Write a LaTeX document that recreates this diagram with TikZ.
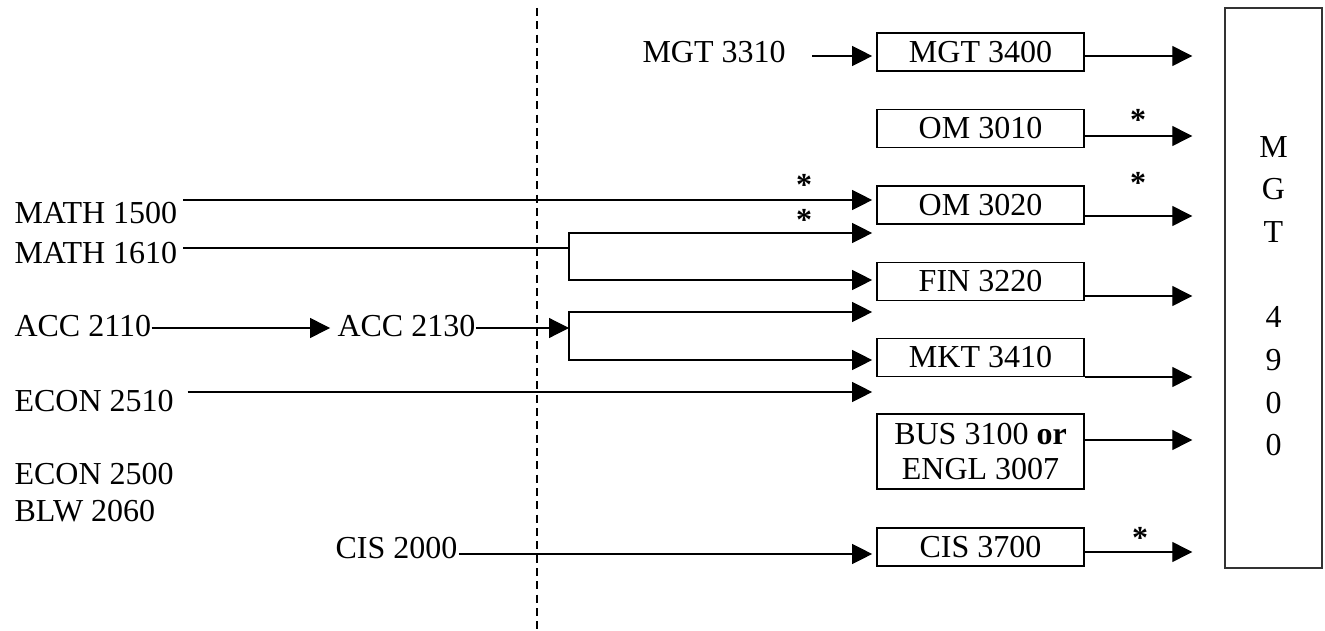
\documentclass[tikz,border=0pt]{standalone}
\usepackage{fontspec}
\setmainfont{Liberation Serif}
\usetikzlibrary{arrows.meta}

\begin{document}
\begin{tikzpicture}[x=0.375pt,y=-0.375pt,
  course/.style={draw,line width=0.65pt,minimum width=77.6pt,minimum height=14.3pt,
    inner sep=0pt,align=center,font=\fontsize{12}{13.1}\selectfont},
  label/.style={inner sep=0pt,anchor=base west,font=\fontsize{12}{14.4}\selectfont},
  star/.style={inner sep=0pt,anchor=base,font=\fontsize{12}{14.4}\selectfont\bfseries},
  arr/.style={-{Triangle[length=7.5pt,width=7.5pt]},line width=0.45pt,shorten >=1.5pt}]

  \useasboundingbox (0,0) rectangle (1325,631);

  % dashed divider
  \draw[line width=0.45pt,dash pattern=on 3pt off 2pt] (537,8) -- (537,631);

  % courses on the right
  \node[course] (mgt3400) at (980.5,52) {MGT 3400};
  \node[course] (om3010) at (980.5,128.5) {OM 3010};
  \node[course] (om3020) at (980.5,205) {OM 3020};
  \node[course] (fin3220) at (980.5,281.5) {FIN 3220};
  \node[course] (mkt3410) at (980.5,357.5) {MKT 3410};
  \node[course,minimum height=28.1pt] (bus3100) at (980.5,451.5) {BUS 3100 \textbf{or}\\ENGL 3007};
  \node[course] (cis3700) at (980.5,547) {CIS 3700};

  % capstone
  \node[draw,line width=0.5pt,black!80,text=black,minimum width=36.4pt,minimum height=210pt,
    inner sep=0pt,align=center,font=\fontsize{12}{16}\selectfont] (mgt4900) at (1273.5,288)
    {\rule{0pt}{14pt}M\\G\\T\\[16pt]4\\9\\0\\0};

  % prerequisites on the left
  \node[label] (m3310) at (642,63) {MGT 3310};
  \node[label] (m1500) at (14,223) {MATH 1500};
  \node[label] (m1610) at (14,263) {MATH 1610};
  \node[label] (a2110) at (14,336) {ACC 2110};
  \node[label] (a2130) at (337,336) {ACC 2130};
  \node[label] (e2510) at (14,411) {ECON 2510};
  \node[label] (e2500) at (14,484) {ECON 2500};
  \node[label] (b2060) at (14,521) {BLW 2060};
  \node[label] (c2000) at (335,558) {CIS 2000};

  \coordinate (j1) at (569,248);
  \coordinate (j2) at (569,328);

  % arrows into the courses
  \draw[arr,shorten <=9.75pt] (m3310.east |- 0,56) -- (mgt3400.west |- 0,56);
  \draw[arr,shorten <=2pt] (m1500.east |- 0,200) -- (om3020.west |- 0,200);
  \draw[line width=0.45pt,shorten <=2pt] (m1610.east |- j1) -- (j1);
  \draw[arr] (j1) -- (j1 |- 0,233) -- (om3020.west |- 0,233);
  \draw[arr] (j1) -- (j1 |- 0,280) -- (fin3220.west |- 0,280);
  \draw[arr,shorten >=2.6pt] (a2110.east |- j2) -- (a2130.west |- j2);
  \draw[arr,shorten >=0pt] (a2130.east |- j2) -- (j2);
  \draw[arr] (j2) -- (j2 |- 0,312) -- (mkt3410.west |- 0,312);
  \draw[arr] (j2) -- (j2 |- 0,360) -- (mkt3410.west |- 0,360);
  \draw[arr,shorten <=5pt] (e2510.east |- 0,392) -- (mkt3410.west |- 0,392);
  \draw[arr,shorten <=0.5pt] (c2000.east |- 0,554) -- (cis3700.west |- 0,554);

  % arrows into MGT 4900
  \foreach \c/\y in {mgt3400/56,om3010/136,om3020/216,fin3220/296,mkt3410/377,bus3100/440,cis3700/552}
    \draw[arr,shorten >=12pt] (\c.east |- 0,\y) -- (mgt4900.west |- 0,\y);

  % starred links
  \node[star] (s1) at (804,196) {*};
  \node[star] (s2) at (804,231) {*};
  \node[star] (s3) at (1138,131) {*};
  \node[star] (s4) at (1138,194) {*};
  \node[star] (s5) at (1140,548) {*};
\end{tikzpicture}
\end{document}
